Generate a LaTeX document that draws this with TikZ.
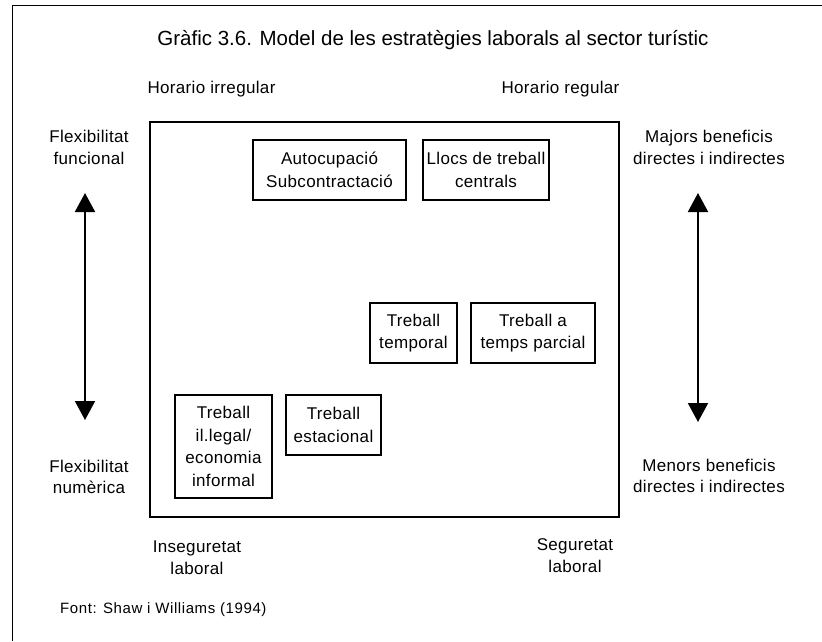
\documentclass[tikz,border=0pt]{standalone}
\usepackage{fontspec}
\setmainfont{Liberation Sans}
\usetikzlibrary{arrows.meta}
\begin{document}
\begin{tikzpicture}[x=1pt,y=-1pt,
  lbl/.style={inner sep=0pt,align=center,font=\fontsize{17}{21.5}\selectfont\addfontfeature{LetterSpace=2}},
  boxn/.style={draw,line width=1.1pt,inner sep=0pt,align=center,font=\fontsize{17}{22.5}\selectfont\addfontfeature{LetterSpace=2}},
  bigarrow/.style={line width=2pt,{Triangle[width=20pt,length=19pt]}-{Triangle[width=20pt,length=19pt]}}
]
\useasboundingbox (0,0) rectangle (822,641);
% outer frame (top and left edges visible)
\draw[line width=1pt] (822,5) -- (12,5) -- (12,641);
% title
\node[inner sep=0pt,font=\fontsize{20.5}{24}\selectfont] (title) at (433,40) {Gràfic 3.6. Model de les estratègies laborals al sector turístic};
% top labels
\node[lbl] (hirr) at (211.5,89) {Horario irregular};
\node[lbl] (hreg) at (560.5,89) {Horario regular};
% inner box
\node[draw,line width=1.4pt,minimum width=469pt,minimum height=395pt,inner sep=0pt] (frame) at (384.5,319.5) {};
% side labels
\node[lbl] (ffun) at (89,147.5) {Flexibilitat\\funcional};
\node[lbl] (fnum) at (89,477) {Flexibilitat\\numèrica};
\node[lbl] (maj) at (709,147.5) {Majors beneficis\\directes i indirectes};
\node[lbl] (men) at (709,476) {Menors beneficis\\directes i indirectes};
\node[lbl] (ins) at (197,557.5) {Inseguretat\\laboral};
\node[lbl] (seg) at (575,555.5) {Seguretat\\laboral};
\node[inner sep=0pt,anchor=west,font=\fontsize{15}{18}\selectfont\addfontfeature{LetterSpace=4}] (font) at (60,610) {Font: Shaw i Williams (1994)};
% arrows
\coordinate (la) at (85,193);
\coordinate (lb) at (85,420);
\coordinate (ra) at (698,193);
\coordinate (rb) at (698,422);
\draw[bigarrow] (la) -- (lb);
\draw[bigarrow] (ra) -- (rb);
% boxes
\node[boxn,minimum width=153pt,minimum height=60pt] (auto) at (329.5,170) {Autocupació\\Subcontractació};
\node[boxn,minimum width=126pt,minimum height=60pt] (llocs) at (486,170) {Llocs de treball\\centrals};
\node[boxn,minimum width=87pt,minimum height=60pt] (temp) at (413.5,333) {Treball\\temporal};
\node[boxn,minimum width=124pt,minimum height=60pt] (parc) at (533,333) {Treball a\\temps parcial};
\node[boxn,minimum width=97pt,minimum height=103pt] (ileg) at (223.5,446.5) {Treball\\il.legal/\\economia\\informal};
\node[boxn,minimum width=95pt,minimum height=60pt] (est) at (333.5,425) {Treball\\estacional};
\end{tikzpicture}
\end{document}
